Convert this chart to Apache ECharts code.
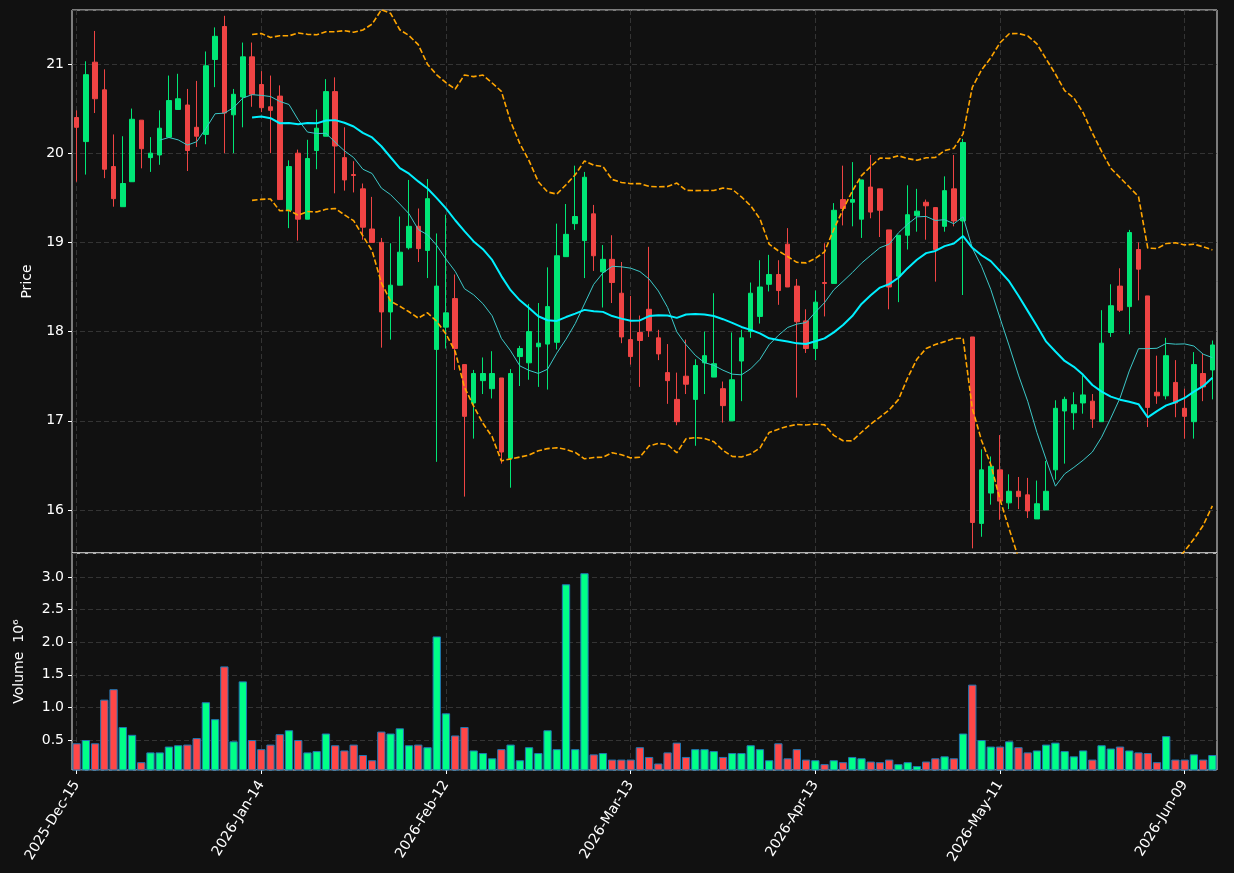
<!DOCTYPE html>
<html>
<head>
<meta charset="utf-8">
<script src="https://cdn.jsdelivr.net/npm/echarts@6/dist/echarts.min.js"></script>
<style>
html, body { margin: 0; padding: 0; background: #111111; }
#chart { width: 1234px; height: 873px; }
</style>
</head>
<body>
<div id="chart"></div>
<script>
const dates = [
  '2025-Dec-15','2025-Dec-16','2025-Dec-17','2025-Dec-18','2025-Dec-19','2025-Dec-22','2025-Dec-23','2025-Dec-24','2025-Dec-26','2025-Dec-29','2025-Dec-30','2025-Dec-31',
  '2026-Jan-02','2026-Jan-05','2026-Jan-06','2026-Jan-07','2026-Jan-08','2026-Jan-09','2026-Jan-12','2026-Jan-13','2026-Jan-14','2026-Jan-15','2026-Jan-16','2026-Jan-20','2026-Jan-21','2026-Jan-22','2026-Jan-23','2026-Jan-26','2026-Jan-27','2026-Jan-28','2026-Jan-29','2026-Jan-30',
  '2026-Feb-02','2026-Feb-03','2026-Feb-04','2026-Feb-05','2026-Feb-06','2026-Feb-09','2026-Feb-10','2026-Feb-11','2026-Feb-12','2026-Feb-13','2026-Feb-17','2026-Feb-18','2026-Feb-19','2026-Feb-20','2026-Feb-23','2026-Feb-24','2026-Feb-25','2026-Feb-26','2026-Feb-27',
  '2026-Mar-02','2026-Mar-03','2026-Mar-04','2026-Mar-05','2026-Mar-06','2026-Mar-09','2026-Mar-10','2026-Mar-11','2026-Mar-12','2026-Mar-13','2026-Mar-16','2026-Mar-17','2026-Mar-18','2026-Mar-19','2026-Mar-20','2026-Mar-23','2026-Mar-24','2026-Mar-25','2026-Mar-26','2026-Mar-27','2026-Mar-30','2026-Mar-31',
  '2026-Apr-01','2026-Apr-02','2026-Apr-06','2026-Apr-07','2026-Apr-08','2026-Apr-09','2026-Apr-10','2026-Apr-13','2026-Apr-14','2026-Apr-15','2026-Apr-16','2026-Apr-17','2026-Apr-20','2026-Apr-21','2026-Apr-22','2026-Apr-23','2026-Apr-24','2026-Apr-27','2026-Apr-28','2026-Apr-29','2026-Apr-30',
  '2026-May-01','2026-May-04','2026-May-05','2026-May-06','2026-May-07','2026-May-08','2026-May-11','2026-May-12','2026-May-13','2026-May-14','2026-May-15','2026-May-18','2026-May-19','2026-May-20','2026-May-21','2026-May-22','2026-May-26','2026-May-27','2026-May-28','2026-May-29',
  '2026-Jun-01','2026-Jun-02','2026-Jun-03','2026-Jun-04','2026-Jun-05','2026-Jun-08','2026-Jun-09','2026-Jun-10','2026-Jun-11','2026-Jun-12'
];

const opens = [
  20.40,20.13,21.02,20.71,19.85,19.40,19.68,20.37,19.95,19.98,20.18,20.49,20.54,20.29,20.21,21.05,21.42,20.43,20.63,21.08,
  20.77,20.52,20.64,19.36,20.00,19.26,20.03,20.19,20.69,19.95,19.76,19.60,19.15,19.00,18.22,18.52,18.94,19.18,18.91,17.80,
  18.05,18.37,17.63,17.20,17.45,17.36,17.48,16.58,17.72,17.65,17.83,17.86,17.88,18.84,19.21,19.02,19.32,18.67,18.81,18.43,
  17.91,17.99,18.25,17.93,17.54,17.24,17.50,17.24,17.65,17.49,17.36,17.00,17.67,18.00,18.17,18.53,18.64,18.98,18.51,18.12,
  17.81,18.55,18.54,19.48,19.45,19.26,19.62,19.60,19.14,18.62,19.08,19.30,19.45,19.39,19.18,19.60,19.24,17.94,15.85,16.19,
  16.45,16.08,16.21,16.17,15.90,16.00,16.45,17.11,17.09,17.20,17.22,16.99,17.99,18.51,18.28,18.92,18.40,17.32,17.28,17.43,
  17.14,16.99,17.53,17.57
];
const closes = [
  20.29,20.88,20.61,19.82,19.49,19.66,20.38,20.05,20.00,20.28,20.59,20.61,20.03,20.19,20.98,21.31,20.45,20.66,21.08,20.66,
  20.51,20.48,19.48,19.85,19.26,19.94,20.28,20.69,20.08,19.70,19.75,19.17,19.00,18.22,18.52,18.89,19.18,18.93,19.49,18.51,
  18.21,17.81,17.05,17.53,17.53,17.53,16.65,17.53,17.81,18.00,17.87,18.28,18.85,19.09,19.29,19.73,18.85,18.81,18.55,17.94,
  17.72,17.90,18.01,17.75,17.45,16.99,17.41,17.62,17.73,17.64,17.17,17.46,17.93,18.43,18.50,18.64,18.46,18.50,18.11,17.81,
  18.33,18.54,19.36,19.38,19.48,19.70,19.34,19.36,18.50,19.08,19.31,19.35,19.41,18.92,19.58,19.24,20.12,15.86,16.45,16.49,
  16.10,16.21,16.15,15.99,16.07,16.21,17.14,17.24,17.18,17.29,17.02,17.87,18.29,18.24,19.11,18.70,17.15,17.28,17.73,17.20,
  17.05,17.63,17.38,17.85
];
const lows = [
  19.68,19.76,20.45,19.72,19.40,19.40,19.68,19.83,19.79,19.87,20.18,20.49,19.80,20.07,20.10,20.74,20.00,20.00,20.29,20.52,
  20.46,20.00,19.48,19.16,19.02,19.26,19.82,20.19,19.55,19.58,19.56,19.03,19.00,17.82,17.91,18.52,18.92,18.78,18.60,16.54,
  17.81,17.57,16.15,16.80,17.30,17.25,16.52,16.25,17.39,17.46,17.38,17.35,17.80,18.84,19.14,18.60,18.68,18.27,18.32,17.87,
  17.63,17.38,17.94,17.68,17.19,16.95,17.30,16.72,17.30,17.49,16.98,17.00,17.22,17.93,18.09,18.45,18.30,18.50,17.26,17.76,
  17.68,18.17,18.54,19.19,19.18,19.05,19.27,19.06,18.25,18.33,18.92,19.12,19.03,18.56,19.12,19.18,18.41,15.57,15.70,16.06,
  15.89,16.01,16.01,15.91,15.90,16.00,16.34,16.52,16.90,17.08,16.92,16.99,17.94,18.22,17.97,18.35,16.93,17.19,17.24,17.04,
  16.80,16.80,17.22,17.24
];
const highs = [
  20.48,21.03,21.37,20.94,20.21,20.19,20.50,20.37,20.18,20.48,20.87,20.89,20.72,20.81,21.14,21.41,21.54,20.72,21.24,21.24,
  20.92,20.87,20.76,19.92,20.04,20.15,20.49,20.83,20.85,20.29,19.91,19.66,19.51,19.05,18.99,19.29,19.70,19.38,19.71,19.10,
  19.31,18.64,17.63,17.57,17.71,17.78,17.48,17.58,17.84,18.31,18.32,18.72,19.21,19.43,19.86,19.79,19.42,18.97,19.08,18.78,
  18.40,18.18,18.95,18.02,17.86,17.54,17.91,17.69,18.00,18.43,17.44,17.99,18.02,18.55,18.80,18.86,18.80,19.16,18.59,18.25,
  18.46,18.99,19.44,19.86,19.90,19.70,19.98,19.60,19.14,19.08,19.64,19.60,19.48,19.39,19.74,19.98,20.16,17.94,16.68,16.60,
  16.84,16.40,16.37,16.36,16.33,16.55,17.23,17.27,17.32,17.51,17.30,18.24,18.53,18.71,19.14,19.00,18.40,17.73,17.93,17.68,
  17.36,17.77,17.75,17.90
];
// volume in millions of shares
const volumes = [
  0.45,0.50,0.45,1.12,1.28,0.70,0.58,0.16,0.31,0.31,0.40,0.42,0.43,0.53,1.08,0.82,1.63,0.48,1.40,0.50,
  0.36,0.43,0.59,0.65,0.50,0.31,0.33,0.60,0.42,0.34,0.43,0.27,0.19,0.63,0.60,0.68,0.42,0.43,0.39,2.09,
  0.91,0.57,0.70,0.34,0.30,0.22,0.36,0.43,0.19,0.39,0.30,0.65,0.36,2.89,0.36,3.06,0.28,0.30,0.20,0.20,
  0.20,0.39,0.24,0.14,0.31,0.46,0.24,0.36,0.36,0.33,0.24,0.30,0.30,0.42,0.36,0.19,0.45,0.22,0.36,0.20,
  0.19,0.13,0.19,0.16,0.24,0.22,0.17,0.16,0.20,0.13,0.16,0.10,0.17,0.22,0.25,0.22,0.60,1.35,0.50,0.40,
  0.40,0.48,0.39,0.31,0.34,0.43,0.46,0.33,0.25,0.34,0.20,0.42,0.37,0.40,0.34,0.31,0.30,0.16,0.56,0.20,
  0.20,0.28,0.20,0.27
];
const priceTicks = [16, 17, 18, 19, 20, 21];
const volumeTicks = [0.5, 1.0, 1.5, 2.0, 2.5, 3.0];

const UP = '#00e676', DOWN = '#ef4444';
const VUP = '#00ff88', VDOWN = '#ff4747';
const FONT = 'DejaVu Sans';

function sma(values, n) {
  return values.map((v, i) => {
    if (i < n - 1) return null;
    let s = 0;
    for (let k = i - n + 1; k <= i; k++) s += values[k];
    return +(s / n).toFixed(4);
  });
}
function band(values, n, k) {
  const mid = sma(values, n);
  return values.map((v, i) => {
    if (mid[i] == null) return null;
    let s = 0;
    for (let j = i - n + 1; j <= i; j++) s += (values[j] - mid[i]) ** 2;
    return +(mid[i] + k * Math.sqrt(s / n)).toFixed(4);
  });
}

const ma10 = sma(closes, 10);
const ma20 = sma(closes, 20);
const upper = band(closes, 20, 2);
const lower = band(closes, 20, -2);

const candles = dates.map((d, i) => [opens[i], closes[i], lows[i], highs[i]]);
const volData = volumes.map((v, i) => ({
  value: v,
  itemStyle: { color: closes[i] >= opens[i] ? VUP : VDOWN }
}));

const every20 = (idx) => idx % 20 === 0;
const gridLine = { show: true, lineStyle: { color: '#3e3e3e', width: 0.8, type: [5, 3] } };

const chart = echarts.init(document.getElementById('chart'));
chart.setOption({
  animation: false,
  backgroundColor: '#111111',
  textStyle: { fontFamily: FONT },
  grid: [
    { left: 72, right: 17, top: 10, height: 543, show: true, borderColor: '#e8e8e8', borderWidth: 1, backgroundColor: 'transparent' },
    { left: 72, right: 17, top: 553, height: 217, show: true, borderColor: '#e8e8e8', borderWidth: 1, backgroundColor: 'transparent' }
  ],
  xAxis: [
    {
      type: 'category', gridIndex: 0, data: dates, boundaryGap: true,
      axisLine: { show: false }, axisTick: { show: false }, axisLabel: { show: false },
      splitLine: Object.assign({ interval: every20, alignWithLabel: true }, gridLine)
    },
    {
      type: 'category', gridIndex: 1, data: dates, boundaryGap: true,
      axisLine: { show: false },
      axisTick: { show: true, interval: every20, alignWithLabel: true, length: 4, inside: false, lineStyle: { color: '#ffffff' } },
      axisLabel: { interval: every20, rotate: 58, color: '#ffffff', fontSize: 14, fontFamily: FONT, margin: 12 },
      splitLine: Object.assign({ interval: every20, alignWithLabel: true }, gridLine)
    }
  ],
  yAxis: [
    {
      type: 'value', gridIndex: 0, min: 15.518, max: 21.605, minInterval: 1, maxInterval: 1,
      name: 'Price', nameLocation: 'middle', nameGap: 38, nameRotate: 90,
      nameTextStyle: { color: '#ffffff', fontSize: 14, fontFamily: FONT },
      axisLine: { show: false },
      axisTick: { show: true, length: 4, lineStyle: { color: '#ffffff' } },
      axisLabel: { color: '#ffffff', fontSize: 14, fontFamily: FONT, margin: 8, showMinLabel: false, showMaxLabel: false,
        formatter: v => priceTicks.includes(v) ? String(v) : '' },
      splitLine: gridLine
    },
    {
      type: 'value', gridIndex: 1, min: 0.04, max: 3.37, minInterval: 0.5, maxInterval: 0.5,
      name: 'Volume  10⁶', nameLocation: 'middle', nameGap: 46, nameRotate: 90,
      nameTextStyle: { color: '#ffffff', fontSize: 14, fontFamily: FONT },
      axisLine: { show: false },
      axisTick: { show: true, length: 4, lineStyle: { color: '#ffffff' } },
      axisLabel: { color: '#ffffff', fontSize: 14, fontFamily: FONT, margin: 8, showMinLabel: false, showMaxLabel: false,
        formatter: v => volumeTicks.some(t => Math.abs(t - v) < 1e-6) ? v.toFixed(1) : '' },
      splitLine: gridLine
    }
  ],
  series: [
    {
      type: 'candlestick', xAxisIndex: 0, yAxisIndex: 0, data: candles, barWidth: 5, z: 3,
      itemStyle: { color: UP, color0: DOWN, borderColor: UP, borderColor0: DOWN, borderWidth: 1 }
    },
    {
      name: 'MA10', type: 'line', xAxisIndex: 0, yAxisIndex: 0, data: ma10, symbol: 'none', z: 4,
      lineStyle: { color: '#3cc8c8', width: 1 }
    },
    {
      name: 'MA20', type: 'line', xAxisIndex: 0, yAxisIndex: 0, data: ma20, symbol: 'none', z: 4,
      lineStyle: { color: '#00f0ff', width: 2 }
    },
    {
      name: 'Upper', type: 'line', xAxisIndex: 0, yAxisIndex: 0, data: upper, symbol: 'none', z: 4,
      lineStyle: { color: '#ffa500', width: 1.6, type: [5.5, 2.4] }
    },
    {
      name: 'Lower', type: 'line', xAxisIndex: 0, yAxisIndex: 0, data: lower, symbol: 'none', z: 4,
      lineStyle: { color: '#ffa500', width: 1.6, type: [5.5, 2.4] }
    },
    {
      name: 'Volume', type: 'bar', xAxisIndex: 1, yAxisIndex: 1, data: volData, barWidth: '90%', z: 3,
      itemStyle: { borderColor: '#1f77b4', borderWidth: 1 }
    }
  ]
});
</script>
</body>
</html>
